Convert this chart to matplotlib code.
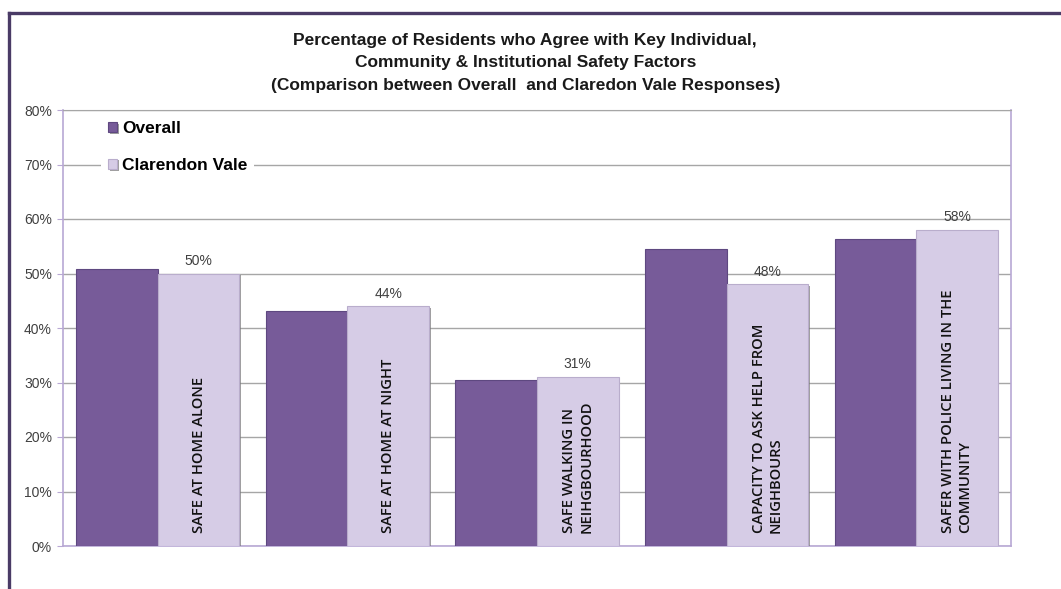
import matplotlib.pyplot as plt
import matplotlib.patheffects as pe
from matplotlib.lines import Line2D
from matplotlib.ticker import PercentFormatter
import numpy as np

factors = ["SAFE AT HOME ALONE",
           "SAFE AT HOME AT NIGHT",
           "SAFE WALKING IN\nNEIHGBOURHOOD",
           "CAPACITY TO ASK HELP FROM\nNEIGHBOURS",
           "SAFER WITH POLICE LIVING IN THE\nCOMMUNITY"]
overall = [50.8, 43.2, 30.5, 54.5, 56.3]
clarendon = [50, 44, 31, 48, 58]
series_names = ["Overall", "Clarendon Vale"]
title = ("Percentage of Residents who Agree with Key Individual,\n"
         "Community & Institutional Safety Factors\n"
         "(Comparison between Overall  and Claredon Vale Responses)")

dark = "#775b99"
light = "#d6cce6"
lavender = "#b8a8d4"
grid = "#a6a6a6"

plt.rcParams["font.family"] = ["Liberation Sans", "DejaVu Sans"]

fig = plt.figure(figsize=(10.61, 5.89), dpi=100)
ax = fig.add_axes([63 / 1061, 43 / 589, 948 / 1061, 436 / 589])

x = np.arange(len(factors))
w = 0.43
shadow = [pe.SimplePatchShadow(offset=(1.2, -1.2), shadow_rgbFace="#777777", alpha=0.7), pe.Normal()]
b1 = ax.bar(x - w / 2, overall, w, color=dark, edgecolor="#5e4880", linewidth=0.8,
            label=series_names[0], zorder=3)
b2 = ax.bar(x + w / 2, clarendon, w, color=light, edgecolor="#b9adcc", linewidth=0.8,
            label=series_names[1], zorder=3)
for bars in (b1, b2):
    for r in bars:
        r.set_path_effects(shadow)

# value labels on the Clarendon Vale bars
for xi, v in zip(x, clarendon):
    ax.annotate(f"{v:.0f}%", (xi + w / 2, v), xytext=(0, 4), textcoords="offset points",
                ha="center", va="bottom", fontsize=10, color="#404040", zorder=2)

# factor names written up the light bars
for xi, name in zip(x, factors):
    ax.text(xi + w / 2, 2.4, name, rotation=90, ha="center", va="bottom",
            multialignment="left", fontsize=10.6, fontweight="semibold", color="#111111",
            family=["Open Sans", "DejaVu Sans"], linespacing=1.3, zorder=4)

ax.set_ylim(0, 80)
ax.set_xlim(-0.5, len(factors) - 0.5)
ax.set_yticks(np.arange(0, 81, 10))
ax.yaxis.set_major_formatter(PercentFormatter(decimals=0))
ax.set_xticks([])
ax.tick_params(axis="y", direction="out", length=4, color=lavender, labelsize=10,
               labelcolor="#404040", pad=4)
ax.grid(axis="y", color=grid, linewidth=1, zorder=0)
ax.set_axisbelow(True)
for side in ("left", "bottom", "right"):
    ax.spines[side].set_color(lavender)
    ax.spines[side].set_linewidth(1.2)
ax.spines["top"].set_color(grid)

leg = ax.legend(loc="upper left", bbox_to_anchor=(0.04, 0.99), frameon=True,
                fancybox=False, framealpha=1, edgecolor="none", facecolor="white",
                prop={"weight": "bold", "size": 12.5}, handlelength=0.55,
                handleheight=0.55, handletextpad=0.25, labelspacing=1.25,
                borderpad=0.4, borderaxespad=0)
leg.set_zorder(5)

fig.text(0.495, 1 - 33 / 589, title, ha="center", va="top", fontsize=12.5,
         fontweight="bold", color="#1a1a1a", linespacing=1.62)

# outer chart frame (top and left edges)
frame = "#4a3b66"
fig.add_artist(Line2D([8.5 / 1061, 1], [1 - 12.5 / 589] * 2, color=frame, lw=2.4,
                      transform=fig.transFigure))
fig.add_artist(Line2D([9 / 1061] * 2, [0, 1 - 12.5 / 589], color=frame, lw=2.4,
                      transform=fig.transFigure))

fig.savefig("out.png", dpi=100)
